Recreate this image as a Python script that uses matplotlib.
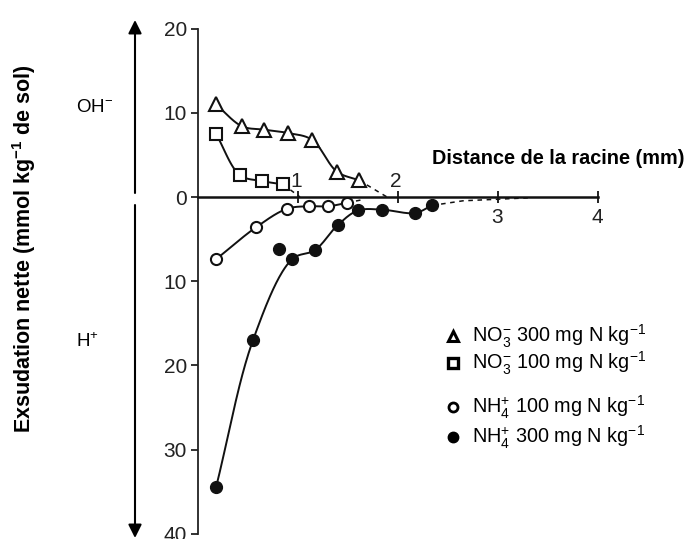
import numpy as np
import matplotlib
matplotlib.use("Agg")
import matplotlib.pyplot as plt
from matplotlib.lines import Line2D

plt.rcParams['font.family'] = ['Liberation Sans', 'DejaVu Sans']
plt.rcParams['mathtext.fontset'] = 'custom'
plt.rcParams['mathtext.rm'] = 'Liberation Sans'
plt.rcParams['mathtext.it'] = 'Liberation Sans:italic'
plt.rcParams['mathtext.bf'] = 'Liberation Sans:bold'
plt.rcParams['mathtext.default'] = 'regular'

# ---- data (distance mm, net exudation mmol/kg; positive = OH-, negative = H+)
no3_300_x = [0.18, 0.44, 0.66, 0.90, 1.14, 1.39, 1.61]
no3_300_y = [11.0, 8.4, 8.0, 7.6, 6.8, 3.0, 2.0]
no3_300_ext_x = [1.61, 1.89]
no3_300_ext_y = [2.0, 0.0]

no3_100_x = [0.18, 0.42, 0.64, 0.85]
no3_100_y = [7.5, 2.6, 1.9, 1.5]
no3_100_ext_x = [0.85, 1.02]
no3_100_ext_y = [1.5, 0.0]

nh4_100_x = [0.18, 0.58, 0.89, 1.11, 1.30, 1.49]
nh4_100_y = [-7.4, -3.6, -1.4, -1.1, -1.1, -0.7]
nh4_100_ext_x = [1.49, 1.65]
nh4_100_ext_y = [-0.7, -0.3]

nh4_300_x = [0.18, 0.55, 0.94, 1.17, 1.40, 1.60, 1.84, 2.17, 2.34]
nh4_300_y = [-34.5, -17.0, -7.4, -6.3, -3.3, -1.6, -1.5, -1.9, -1.0]
nh4_300_extra_x = [0.81]
nh4_300_extra_y = [-6.2]
nh4_300_ext_x = [2.34, 2.65, 3.3]
nh4_300_ext_y = [-1.0, -0.45, -0.1]

y_ticks = [20, 10, 0, -10, -20, -30, -40]
y_ticklabels = ['20', '10', '0', '10', '20', '30', '40']
x_ticks = [1, 2, 3, 4]
x_ticklabels = ['1', '2', '3', '4']

legend_labels = [r'NO$_3^{-}$ 300 mg N kg$^{-1}$',
                 r'NO$_3^{-}$ 100 mg N kg$^{-1}$',
                 r'NH$_4^{+}$ 100 mg N kg$^{-1}$',
                 r'NH$_4^{+}$ 300 mg N kg$^{-1}$']

W, H = 688, 539
fig = plt.figure(figsize=(W / 100, H / 100), dpi=100)
ax = fig.add_axes([0, 0, 1, 1])
ax.set_xlim(-1.98, 4.90)
ax.set_ylim(-40.62, 23.40)
ax.patch.set_alpha(0)

# scale factors for smoothing in screen space
sx, sy = 100.0, 8.42


def smooth(xs, ys, n=40, alpha=0.5):
    """Centripetal Catmull-Rom curve through the points (for drawing only)."""
    P = np.column_stack([np.asarray(xs) * sx, np.asarray(ys) * sy])
    if len(P) < 3:
        return xs, ys
    P = np.vstack([2 * P[0] - P[1], P, 2 * P[-1] - P[-2]])
    out = []
    for i in range(1, len(P) - 2):
        p0, p1, p2, p3 = P[i - 1], P[i], P[i + 1], P[i + 2]
        t0 = 0.0
        t1 = t0 + np.linalg.norm(p1 - p0) ** alpha
        t2 = t1 + np.linalg.norm(p2 - p1) ** alpha
        t3 = t2 + np.linalg.norm(p3 - p2) ** alpha
        t = np.linspace(t1, t2, n)[:, None]
        a1 = (t1 - t) / (t1 - t0) * p0 + (t - t0) / (t1 - t0) * p1
        a2 = (t2 - t) / (t2 - t1) * p1 + (t - t1) / (t2 - t1) * p2
        a3 = (t3 - t) / (t3 - t2) * p2 + (t - t2) / (t3 - t2) * p3
        b1 = (t2 - t) / (t2 - t0) * a1 + (t - t0) / (t2 - t0) * a2
        b2 = (t3 - t) / (t3 - t1) * a2 + (t - t1) / (t3 - t1) * a3
        c = (t2 - t) / (t2 - t1) * b1 + (t - t1) / (t2 - t1) * b2
        out.append(c if i == 1 else c[1:])
    out = np.vstack(out)
    return out[:, 0] / sx, out[:, 1] / sy


lc = '#111111'
lw = 1.4
for xs, ys in [(no3_300_x, no3_300_y), (no3_100_x, no3_100_y),
               (nh4_100_x, nh4_100_y), (nh4_300_x, nh4_300_y)]:
    cx, cy = smooth(xs, ys)
    ax.plot(cx, cy, color=lc, lw=lw, zorder=2)

for xs, ys in [(no3_300_ext_x, no3_300_ext_y), (no3_100_ext_x, no3_100_ext_y),
               (nh4_100_ext_x, nh4_100_ext_y), (nh4_300_ext_x, nh4_300_ext_y)]:
    ax.plot(xs, ys, color=lc, lw=1.1, ls=(0, (3, 3)), zorder=2)

ax.plot(no3_300_x, no3_300_y, ls='none', marker='^', ms=10.5, mfc='white', mec=lc, mew=1.5, zorder=3)
ax.plot(no3_100_x, no3_100_y, ls='none', marker='s', ms=8, mfc='white', mec=lc, mew=1.5, zorder=3)
ax.plot(nh4_100_x, nh4_100_y, ls='none', marker='o', ms=8, mfc='white', mec=lc, mew=1.5, zorder=3)
ax.plot(nh4_300_x, nh4_300_y, ls='none', marker='o', ms=8.5, mfc=lc, mec=lc, zorder=3)
ax.plot(nh4_300_extra_x, nh4_300_extra_y, ls='none', marker='o', ms=8.5, mfc=lc, mec=lc, zorder=3)

# axes styling
for s in ['top', 'right']:
    ax.spines[s].set_visible(False)
ax.spines['left'].set_position(('data', 0))
ax.spines['bottom'].set_position(('data', 0))
ax.spines['left'].set_bounds(-40, 20)
ax.spines['bottom'].set_bounds(0, 4)
ax.spines['left'].set_linewidth(1.3)
ax.spines['bottom'].set_linewidth(1.8)
ax.spines['left'].set_color('#222222')
ax.spines['bottom'].set_color('#111111')

ax.set_yticks(y_ticks)
ax.set_yticklabels(y_ticklabels)
ax.tick_params(axis='y', direction='out', length=5, width=1.3, pad=3,
               labelsize=15, labelcolor='#222222', color='#222222')
ax.set_xticks(x_ticks)
ax.set_xticklabels([''] * len(x_ticks))
ax.tick_params(axis='x', direction='inout', length=9, width=1.3, color='#111111')
for xv, lab in zip(x_ticks, x_ticklabels):
    above = xv <= 2
    ax.annotate(lab, (xv, 0), xytext=(-2 if above else -1, 16 if above else -20),
                textcoords='offset pixels',
                ha='center', va='center', fontsize=15, color='#222222')


def fx(px):
    return px / W


def fy(py):
    return 1 - py / H


# big double arrow on the left
ax.annotate('', xy=(fx(135), fy(20)), xytext=(fx(135), fy(193)),
            xycoords='figure fraction', textcoords='figure fraction',
            arrowprops=dict(arrowstyle='-|>', color='black', lw=1.5, mutation_scale=20,
                            shrinkA=0, shrinkB=0))
ax.annotate('', xy=(fx(135), fy(538)), xytext=(fx(135), fy(205)),
            xycoords='figure fraction', textcoords='figure fraction',
            arrowprops=dict(arrowstyle='-|>', color='black', lw=1.5, mutation_scale=20,
                            shrinkA=0, shrinkB=0))

fig.text(fx(76), fy(108), r'OH$^{-}$', fontsize=13.5, ha='left', va='center')
fig.text(fx(76), fy(342), r'H$^{+}$', fontsize=13.5, ha='left', va='center')
fig.text(fx(24), fy(249), r'Exsudation nette (mmol kg$^{-1}$ de sol)', rotation=90,
         fontsize=15.5, fontweight='bold', ha='center', va='center')
fig.text(fx(558), fy(158), 'Distance de la racine (mm)', fontsize=14.3,
         fontweight='bold', ha='center', va='center')

# legend (manual)
leg_y = [336, 363, 407, 437]
leg_markers = [dict(marker='^', ms=7.5, mfc='white', mec='black', mew=2.2),
               dict(marker='s', ms=7.5, mfc='white', mec='black', mew=2.4),
               dict(marker='o', ms=6.5, mfc='white', mec='black', mew=2.0),
               dict(marker='o', ms=7.5, mfc='black', mec='black', mew=1.0)]
for yy, mk, lab in zip(leg_y, leg_markers, legend_labels):
    fig.add_artist(Line2D([fx(453)], [fy(yy)], ls='none', transform=fig.transFigure, **mk))
    fig.text(fx(472), fy(yy), lab, fontsize=14.3, ha='left', va='center')

fig.savefig('out.png', dpi=100)
